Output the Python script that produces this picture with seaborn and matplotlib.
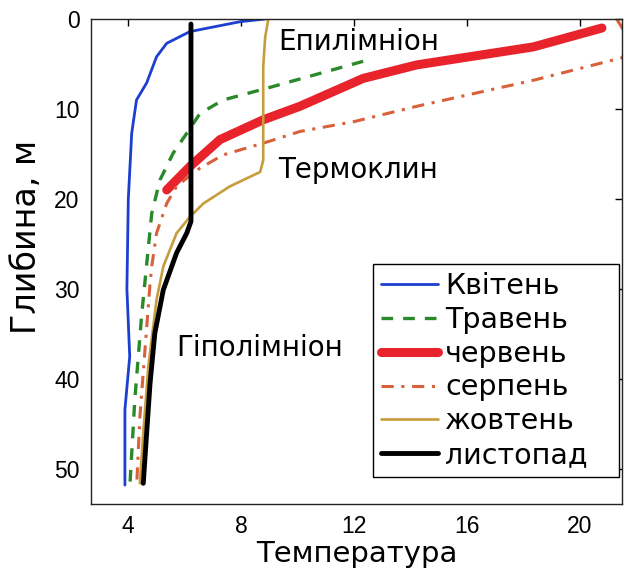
import matplotlib
matplotlib.use('Agg')
import matplotlib.pyplot as plt
import seaborn as sns
import pandas as pd

# temperature (x) vs depth (y) profiles
months = ['Квітень', 'Травень', 'червень', 'серпень', 'жовтень', 'листопад']

t_apr = [8.84, 7.96, 6.18, 5.36, 5.0, 4.65, 4.29, 4.12, 4.0, 3.95, 4.05, 3.88, 3.88]
d_apr = [0, 0.3, 1.4, 2.7, 4.2, 7.1, 9, 12.7, 20, 30, 37.5, 43.4, 51.8]

t_may = [12.32, 8.9, 7.36, 6.54, 6.07, 5.59, 5.12, 4.83, 4.7, 4.47, 4.23, 4.06]
d_may = [4.7, 7.7, 9.0, 10.5, 12.7, 14.9, 17.9, 21.6, 25.7, 33, 42.3, 51.6]

t_jun = [20.78, 18.35, 14.22, 12.32, 10.08, 8.78, 7.25, 6.18, 5.36]
d_jun = [1.0, 3.1, 5.1, 6.6, 9.7, 11.2, 13.4, 16.4, 19.0]

t_aug = [21.3, 21.8, 21.5, 18.36, 14.22, 12.0, 10.08, 8.78, 7.36, 6.42, 5.71, 5.36, 5.0, 4.83, 4.77, 4.59, 4.41, 4.3]
d_aug = [0, 2.5, 4.3, 6.8, 9.7, 11.4, 12.5, 13.8, 15.1, 16.8, 18.6, 20.5, 23.8, 27.5, 29.4, 36.8, 44.2, 51.6]

t_oct = [8.96, 8.85, 8.78, 8.78, 8.67, 7.6, 6.66, 6.18, 5.71, 5.24, 5.0, 4.71, 4.53, 4.41]
d_oct = [0, 2, 5.3, 15.7, 17, 18.6, 20.5, 22, 23.8, 27.5, 31.2, 38.6, 46, 51.6]

t_nov = [6.22, 6.22, 6.07, 5.71, 5.24, 4.94, 4.77, 4.65, 4.53]
d_nov = [0.56, 22.5, 23.8, 26, 30.1, 34.9, 40.5, 46, 51.6]

temps = [t_apr, t_may, t_jun, t_aug, t_oct, t_nov]
depths = [d_apr, d_may, d_jun, d_aug, d_oct, d_nov]

styles = {
    'Квітень': dict(color='#1b3fcf', lw=2.0, ls='-'),
    'Травень': dict(color='#2a8a2a', lw=2.4, ls=(0, (3.5, 3))),
    'червень': dict(color='#e8232b', lw=6.5, ls='-'),
    'серпень': dict(color='#d8603a', lw=2.2, ls=(0, (4, 2.5, 1, 2.5))),
    'жовтень': dict(color='#c69c3c', lw=1.9, ls='-'),
    'листопад': dict(color='black', lw=3.5, ls='-'),
}

sns.set_style('white')
plt.rcParams['font.family'] = ['DejaVu Sans']
plt.rcParams['text.color'] = 'black'
plt.rcParams['axes.labelcolor'] = 'black'

fig = plt.figure(figsize=(6.26, 5.76), dpi=100)
ax = fig.add_axes([0.145, 0.125, 0.849, 0.842])

for m, t, d in zip(months, temps, depths):
    df = pd.DataFrame({'t': t, 'd': d})
    st = styles[m]
    sns.lineplot(data=df, x='t', y='d', sort=False, estimator=None, ax=ax,
                 color=st['color'], linewidth=st['lw'], linestyle=st['ls'], label=m)

ax.set_xlim(2.67, 21.5)
ax.set_ylim(53.9, 0)
ax.set_xticks([4, 8, 12, 16, 20])
ax.set_yticks([0, 10, 20, 30, 40, 50])
ax.tick_params(direction='in', length=5, width=1, top=True, right=True,
               labelsize=16.5, pad=8, colors='black')
for lab in ax.get_xticklabels() + ax.get_yticklabels():
    lab.set_fontfamily('Liberation Sans')
for s in ax.spines.values():
    s.set_color('#222222')
    s.set_linewidth(1.0)

ax.set_xlabel('Температура', fontsize=21, labelpad=1)
ax.set_ylabel('Глибина, м', fontsize=24)
ax.yaxis.set_label_coords(-0.09, 0.55)

ax.text(9.3, 2.5, 'Епилімніон', fontsize=20, va='center', ha='left')
ax.text(9.3, 16.8, 'Термоклин', fontsize=20, va='center', ha='left')
ax.text(5.71, 36.6, 'Гіполімніон', fontsize=20, va='center', ha='left')

leg = ax.legend(loc='lower left', bbox_to_anchor=(0.531, 0.056, 0.463, 0.3),
                mode='expand', fontsize=20.5,
                frameon=True, fancybox=False, framealpha=1, edgecolor='black',
                borderaxespad=0, handlelength=2.0, handletextpad=0.25,
                labelspacing=0.2, borderpad=0.28)
leg.get_frame().set_linewidth(1.0)

fig.savefig('out.png', dpi=100)
